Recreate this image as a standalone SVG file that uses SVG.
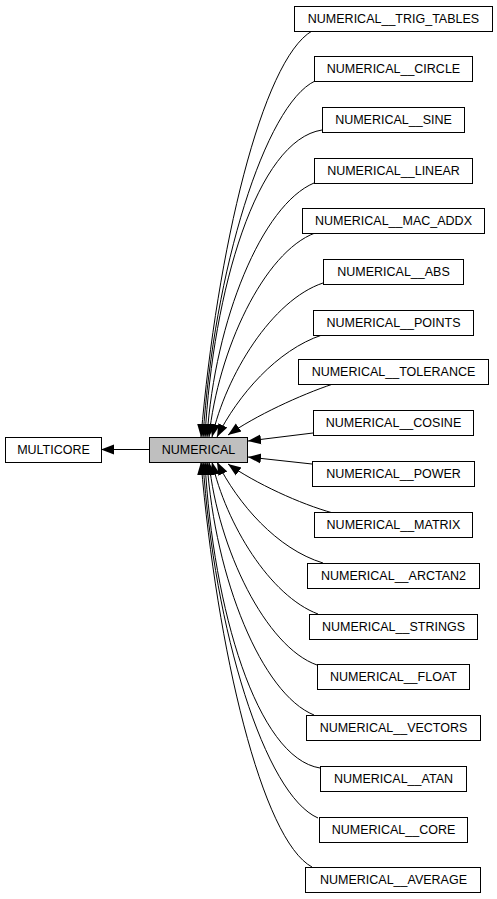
<svg xmlns="http://www.w3.org/2000/svg" width="497" height="899" viewBox="0 0 497 899">
<style>
.n rect{fill:#fff;stroke:#000;stroke-width:1}
.n.hl rect{fill:#bfbfbf}
.n text{font-family:"Liberation Sans",Arial,sans-serif;font-size:12.5px;fill:#000;text-anchor:middle}
.e path{fill:none;stroke:#000;stroke-width:1;marker-end:url(#ah)}
</style>
<defs>
<marker id="ah" markerUnits="userSpaceOnUse" markerWidth="14" markerHeight="12" viewBox="0 -6 14 12" refX="13" refY="0" orient="auto">
<path d="M0,-5 L13,0 L0,5 z" fill="#000" stroke="none"/>
</marker>
</defs>
<rect width="497" height="899" fill="#fff"/>
<g id="connectors" class="e">
<path d="M149,449.5 L101,449.5"/>
<path d="M312,31 C262,60 217,250 201,437"/>
<path d="M315,81 C265,105 214,270 203,437"/>
<path d="M322,130 C257,140 213,290 205,437"/>
<path d="M314,183 C262,205 215,320 207,437"/>
<path d="M315,233 C264,252 218,350 209,437"/>
<path d="M323,283 C272,300 226,375 212,437"/>
<path d="M322,335 C277,350 238,395 217,437"/>
<path d="M333,384 C300,395 255,416 228,435"/>
<path d="M313,433 L248,441"/>
<path d="M312,464 L248,457"/>
<path d="M333,513 C300,504 255,483 228,464"/>
<path d="M323,563 C277,549 238,504 217,462"/>
<path d="M318,614 C270,596 226,524 212,462"/>
<path d="M317,665 C266,647 218,549 209,462"/>
<path d="M314,715 C262,694 215,579 207,462"/>
<path d="M320,768 C257,758 213,609 205,462"/>
<path d="M318,818 C265,795 214,630 203,462"/>
<path d="M312,867 C262,840 217,650 201,462"/>
</g>
<g id="multicore" class="n"><rect x="5.5" y="437.5" width="96" height="25"/><text x="53.5" y="454">MULTICORE</text></g>
<g id="numerical" class="n hl"><rect x="149.5" y="437.5" width="98" height="25"/><text x="198.5" y="454">NUMERICAL</text></g>
<g id="trig_tables" class="n"><rect x="294.5" y="6.5" width="198" height="25"/><text x="393.5" y="23">NUMERICAL__TRIG_TABLES</text></g>
<g id="circle" class="n"><rect x="314.5" y="56.5" width="158" height="25"/><text x="393.5" y="73">NUMERICAL__CIRCLE</text></g>
<g id="sine" class="n"><rect x="322.5" y="107.5" width="142" height="25"/><text x="393.5" y="124">NUMERICAL__SINE</text></g>
<g id="linear" class="n"><rect x="314.5" y="158.5" width="158" height="25"/><text x="393.5" y="175">NUMERICAL__LINEAR</text></g>
<g id="mac_addx" class="n"><rect x="302.5" y="208.5" width="182" height="25"/><text x="393.5" y="225">NUMERICAL__MAC_ADDX</text></g>
<g id="abs" class="n"><rect x="323.5" y="259.5" width="140" height="25"/><text x="393.5" y="276">NUMERICAL__ABS</text></g>
<g id="points" class="n"><rect x="313.5" y="310.5" width="160" height="25"/><text x="393.5" y="327">NUMERICAL__POINTS</text></g>
<g id="tolerance" class="n"><rect x="298.5" y="359.5" width="190" height="25"/><text x="393.5" y="376">NUMERICAL__TOLERANCE</text></g>
<g id="cosine" class="n"><rect x="313.5" y="410.5" width="160" height="25"/><text x="393.5" y="427">NUMERICAL__COSINE</text></g>
<g id="power" class="n"><rect x="312.5" y="461.5" width="162" height="25"/><text x="393.5" y="478">NUMERICAL__POWER</text></g>
<g id="matrix" class="n"><rect x="314.5" y="512.5" width="158" height="25"/><text x="393.5" y="529">NUMERICAL__MATRIX</text></g>
<g id="arctan2" class="n"><rect x="307.5" y="563.5" width="172" height="25"/><text x="393.5" y="580">NUMERICAL__ARCTAN2</text></g>
<g id="strings" class="n"><rect x="309.5" y="614.5" width="168" height="25"/><text x="393.5" y="631">NUMERICAL__STRINGS</text></g>
<g id="float" class="n"><rect x="317.5" y="664.5" width="152" height="25"/><text x="393.5" y="681">NUMERICAL__FLOAT</text></g>
<g id="vectors" class="n"><rect x="306.5" y="715.5" width="174" height="25"/><text x="393.5" y="732">NUMERICAL__VECTORS</text></g>
<g id="atan" class="n"><rect x="320.5" y="766.5" width="146" height="25"/><text x="393.5" y="783">NUMERICAL__ATAN</text></g>
<g id="core" class="n"><rect x="319.5" y="817.5" width="148" height="25"/><text x="393.5" y="834">NUMERICAL__CORE</text></g>
<g id="average" class="n"><rect x="305.5" y="867.5" width="175" height="25"/><text x="393.5" y="884">NUMERICAL__AVERAGE</text></g>
</svg>
